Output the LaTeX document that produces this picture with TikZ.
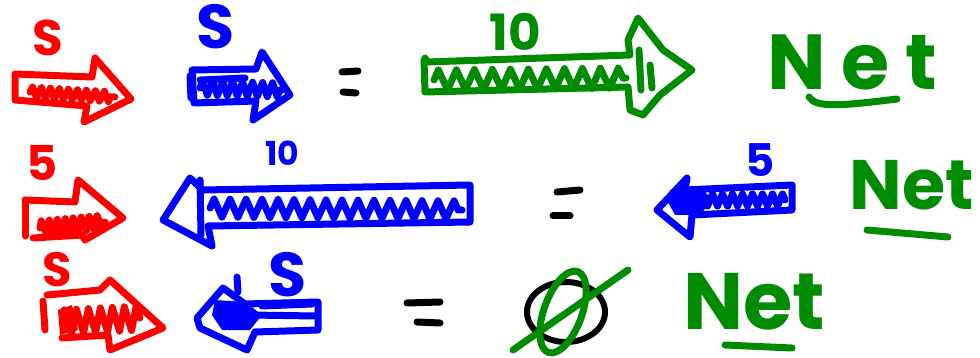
\documentclass[tikz,border=0pt]{standalone}
\usepackage{fontspec}
\setmainfont{Poppins}
\usetikzlibrary{decorations.pathmorphing}
\definecolor{pred}{RGB}{255,0,0}
\definecolor{pblue}{RGB}{0,0,255}
\definecolor{pgreen}{RGB}{0,140,0}
\tikzset{
  ink/.style={line width=7pt, line cap=round, line join=round},
  zig/.style 2 args={ink, decorate, decoration={zigzag, segment length=#1, amplitude=#2}},
  lbl/.style={inner sep=0pt, anchor=center},
}
\newcommand{\fs}[1]{\bfseries\fontsize{#1}{#1}\selectfont}
\begin{document}
\begin{tikzpicture}[x=1pt,y=-1pt]
\useasboundingbox[fill=white] (0,0) rectangle (980,358);

% ---------- Row 1 ----------
\node[lbl,text=pred,font=\fs{50}] (r1s) at (48,38) {S};
\draw[ink,pred] (15,74) -- (92,77) -- (95,58) -- (131,99) -- (84,122) -- (87,106) -- (15,100) -- cycle;
\draw[zig={9pt}{5pt},pred] (30,92) -- (115,97);

\node[lbl,text=pblue,font=\fs{62}] (b1s) at (216,27) {S};
\draw[ink,pblue] (192,70) -- (256,69) -- (262,52) -- (290,95) -- (253,120) -- (256,101) -- (194,103) -- cycle;
\draw[ink,pblue] (190,76) -- (191,98);
\draw[zig={10pt}{7pt},pblue] (200,88) -- (282,90);
\draw[ink,pblue] (200,80) -- (245,78);

\draw[ink,black] (342,72) -- (358,71);
\draw[ink,black] (343,92) -- (356,93);

\node[lbl,text=pgreen,font=\fs{50}] (g10) at (515,32) {10};
\draw[ink,pgreen] (425,58) -- (427,62) -- (630,55) -- (628,40) -- (638,18) -- (663,50) -- (692,70) -- (660,95) -- (643,115) -- (630,110) -- (628,87) -- (425,92) -- (424,60);
\draw[zig={18pt}{10pt},pgreen] (434,80) -- (626,78);
\draw[ink,pgreen] (639,50) -- (641,90);
\draw[ink,pgreen] (650,65) -- (652,88);
\node[lbl,text=pgreen,font={\fs{78}\addfontfeatures{LetterSpace=20}}] (net1) at (852,62) {Net};
\draw[ink,pgreen] (809,97) .. controls (816,108) and (840,106) .. (897,99);

% ---------- Row 2 ----------
\node[lbl,text=pred,font=\fs{48}] (r2s) at (42,163) {5};
\draw[ink,pred] (25,200) -- (75,202) -- (78,180) -- (123,218) -- (85,240) -- (82,235) -- (33,238);
\draw[ink,pred] (25,200) -- (25,236);
\draw[zig={8pt}{7pt},pred] (40,228) -- (105,222);

\node[lbl,text=pblue,font=\fs{33}] (b10) at (282,153) {10};
\draw[ink,pblue] (470,185) -- (203,190) -- (190,178) -- (163,220) -- (212,246) -- (208,226) -- (470,222) -- cycle;
\draw[ink,pblue] (200,180) -- (201,235);
\draw[zig={16pt}{9pt},pblue] (210,208) -- (462,210);

\draw[ink,black] (557,192) -- (580,190);
\draw[ink,black] (553,216) -- (570,216);

\node[lbl,text=pblue,font=\fs{45}] (b5) at (760,160) {5};
\draw[ink,pblue] (792,185) -- (685,190) -- (687,178) -- (657,210) -- (690,237) -- (692,215) -- (792,210) -- cycle;
\draw[zig={10pt}{6pt},pblue] (690,200) -- (785,200);
\fill[pblue] (670,190) -- (700,186) -- (712,200) -- (700,215) -- (675,215) -- (668,202) -- cycle;

\node[lbl,text=pgreen,font=\fs{70}] (net2) at (912,185) {Net};
\draw[ink,pgreen] (867,230) -- (948,237);

% ---------- Row 3 ----------
\node[lbl,text=pred,font=\fs{48}] (r3s) at (57,270) {S};
\draw[ink,pred] (43,301) -- (45,330);
\draw[ink,pred] (47,295) -- (100,290) -- (110,280) -- (163,328) -- (110,350) -- (108,335) -- (62,338);
\draw[zig={12pt}{12pt},pred] (62,322) -- (140,318);
\fill[pred] (58,310) -- (72,305) -- (78,330) -- (60,335) -- cycle;

\draw[ink,pblue] (237,277) -- (238,292);
\node[lbl,text=pblue,font=\fs{62}] (b3s) at (288,275) {S};
\draw[ink,pblue] (318,302) -- (245,304) -- (223,288) -- (197,318) -- (200,328) -- (247,350) -- (255,332) -- (318,330) -- cycle;
\fill[pblue] (215,300) -- (245,302) -- (262,315) -- (250,330) -- (222,330) -- (212,315) -- cycle;
\draw[ink,pblue] (250,315) -- (316,316);
\draw[ink,pblue] (262,306) -- (312,304);

\draw[ink,black] (407,303) -- (440,302);
\draw[ink,black] (417,322) -- (440,323);

\draw[black,line width=6pt] (566,312) ellipse [x radius=39, y radius=30];
\draw[ink,pgreen,rotate around={-20:(563,312)}] (563,312) ellipse [x radius=19, y radius=43];
\draw[ink,pgreen] (513,350) -- (628,270);

\node[lbl,text=pgreen,font={\fs{80}}] (net3) at (754,302) {Net};
\draw[ink,pgreen] (725,345) -- (792,348);
\end{tikzpicture}
\end{document}
